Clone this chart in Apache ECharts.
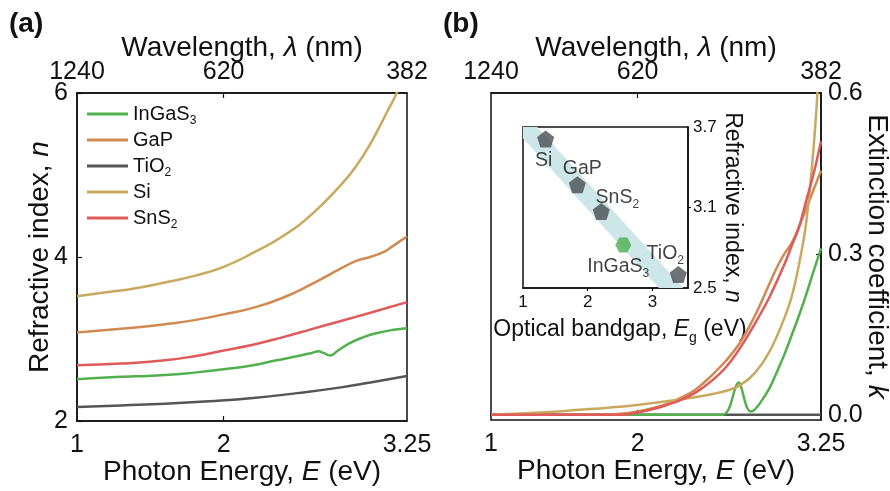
<!DOCTYPE html>
<html><head><meta charset="utf-8">
<script src="https://cdn.jsdelivr.net/npm/echarts@6/dist/echarts.min.js"></script>
<style>html,body{margin:0;padding:0;background:#fff}#c{width:890px;height:491px}</style>
</head><body><div id="c"></div>
<script>
// ---------- tick labels ----------
const energyTicks = [1, 2, 3.25];
const energyTickLabels = ['1', '2', '3.25'];
const wavelengthTickLabels = ['1240', '620', '382'];
const kTicks = [0, 0.3, 0.6];
const insetXTicks = [1, 2, 3];
const insetYTicks = [2.5, 3.1, 3.7];

// ---------- panel (a): refractive index n vs photon energy E ----------
const seriesNames = ['InGaS3', 'GaP', 'TiO2', 'Si', 'SnS2'];

const inGaS3_E_a = [1.0, 1.2, 1.4, 1.6, 1.8, 2.0, 2.2, 2.36, 2.5, 2.6, 2.645, 2.68, 2.725, 2.78, 2.86, 2.95, 3.04, 3.15, 3.25];
const inGaS3_n   = [2.51, 2.53, 2.545, 2.56, 2.59, 2.63, 2.68, 2.74, 2.79, 2.83, 2.85, 2.83, 2.80, 2.86, 2.95, 3.02, 3.07, 3.11, 3.13];

const gaP_E_a = [1.0, 1.2, 1.4, 1.6, 1.8, 2.0, 2.2, 2.4, 2.6, 2.8, 2.9, 3.0, 3.1, 3.15, 3.25];
const gaP_n   = [3.08, 3.11, 3.14, 3.18, 3.23, 3.30, 3.38, 3.50, 3.67, 3.86, 3.95, 4.0, 4.07, 4.13, 4.25];

const tiO2_E_a = [1.0, 1.3, 1.6, 1.9, 2.2, 2.5, 2.8, 3.0, 3.25];
const tiO2_n   = [2.17, 2.19, 2.21, 2.24, 2.28, 2.34, 2.41, 2.47, 2.55];

const si_E_a = [1.0, 1.2, 1.4, 1.6, 1.8, 2.0, 2.2, 2.4, 2.6, 2.8, 2.9, 3.0, 3.1, 3.2, 3.25];
const si_n   = [3.52, 3.57, 3.62, 3.69, 3.77, 3.88, 4.05, 4.25, 4.52, 4.88, 5.10, 5.38, 5.72, 6.08, 6.35];

const snS2_E_a = [1.0, 1.3, 1.6, 1.8, 2.0, 2.2, 2.4, 2.6, 2.8, 3.0, 3.25];
const snS2_n   = [2.68, 2.70, 2.74, 2.79, 2.86, 2.93, 3.02, 3.12, 3.22, 3.32, 3.45];

// ---------- panel (b): extinction coefficient k vs photon energy E ----------
const inGaS3_E_b = [1.0, 2.58, 2.62, 2.65, 2.67, 2.69, 2.71, 2.73, 2.75, 2.77, 2.80, 2.85, 2.90, 2.95, 3.0, 3.05, 3.1, 3.15, 3.2, 3.25];
const inGaS3_k   = [0, 0, 0.01, 0.035, 0.053, 0.06, 0.047, 0.026, 0.011, 0.006, 0.01, 0.028, 0.05, 0.08, 0.112, 0.148, 0.185, 0.225, 0.268, 0.31];

const gaP_E_b = [1.0, 1.8, 1.9, 2.0, 2.1, 2.2, 2.3, 2.4, 2.5, 2.6, 2.7, 2.8, 2.9, 2.95, 3.0, 3.05, 3.1, 3.15, 3.2, 3.25];
const gaP_k   = [0, 0, 0.002, 0.006, 0.012, 0.02, 0.032, 0.048, 0.072, 0.1, 0.135, 0.185, 0.245, 0.275, 0.3, 0.32, 0.35, 0.385, 0.42, 0.455];

const tiO2_E_b = [1.0, 3.25];
const tiO2_k   = [0, 0];

const si_E_b = [1.0, 1.2, 1.4, 1.6, 1.8, 2.0, 2.2, 2.4, 2.6, 2.7, 2.8, 2.9, 3.0, 3.05, 3.1, 3.15, 3.2, 3.23];
const si_k   = [0, 0.002, 0.005, 0.009, 0.013, 0.018, 0.025, 0.033, 0.044, 0.055, 0.078, 0.118, 0.18, 0.22, 0.28, 0.36, 0.5, 0.62];

const snS2_E_b = [1.0, 1.9, 2.0, 2.1, 2.2, 2.3, 2.4, 2.5, 2.6, 2.7, 2.8, 2.9, 3.0, 3.05, 3.1, 3.15, 3.2, 3.25];
const snS2_k   = [0, 0, 0.004, 0.01, 0.018, 0.028, 0.042, 0.062, 0.088, 0.125, 0.17, 0.22, 0.28, 0.315, 0.35, 0.4, 0.45, 0.51];

// ---------- inset: n vs optical bandgap ----------
const insetNames = ['Si', 'GaP', 'SnS2', 'InGaS3', 'TiO2'];
const insetEg    = [1.35, 1.84, 2.21, 2.55, 3.40];
const insetN     = [3.61, 3.27, 3.07, 2.82, 2.60];
const bandEg     = [0.9, 3.6, 3.6, 0.9];
const bandN      = [3.87, 2.435, 2.235, 3.67];

// ---------- styling ----------
const FONT = 'Liberation Sans, Arial, Helvetica, sans-serif';
const colors = { InGaS3: '#52b04e', GaP: '#cf8a52', TiO2: '#555555', Si: '#c9a95f', SnS2: '#e05a5a' };
const subNames = { InGaS3: 'InGaS{sub|3}', TiO2: 'TiO{sub|2}', SnS2: 'SnS{sub|2}' };
function rich(size) {
  return {
    i: { fontStyle: 'italic', fontSize: size, fontFamily: FONT, color: '#111' },
    sub: { fontSize: Math.round(size * 0.62), padding: [Math.round(size * 0.7), 0, 0, 0], fontFamily: FONT, color: '#111' }
  };
}
function zip(xs, ys) { return xs.map((x, i) => [x, ys[i]]); }
function lbl(map) { return v => { const i = map[0].indexOf(v); return i >= 0 ? map[1][i] : ''; }; }

const TITLE = 28, TICK = 25;
const grids = [
  { left: 77, top: 93, width: 330, height: 328 },
  { left: 491, top: 93, width: 330, height: 327 },
  { left: 523, top: 127, width: 165, height: 161 }
];

const axisLineStyle = { show: true, lineStyle: { color: '#111', width: 1.5 } };
const tickStyle = { color: '#111', width: 1.2 };
const titleStyle = { fontSize: TITLE, fontFamily: FONT, color: '#111', rich: rich(TITLE) };

function energyAxis(gi, pos) {
  const bottom = pos === 'bottom';
  return {
    gridIndex: gi, type: 'value', position: pos, min: 1, max: 3.25, axisLine: axisLineStyle, splitLine: { show: false },
    axisTick: { inside: true, length: 5, customValues: [2], lineStyle: tickStyle },
    axisLabel: { customValues: energyTicks, formatter: lbl([energyTicks, bottom ? energyTickLabels : wavelengthTickLabels]),
      fontSize: TICK, fontFamily: FONT, color: '#111', margin: bottom ? 12 : 8 },
    name: bottom ? 'Photon Energy, {i|E} (eV)' : 'Wavelength, {i|λ} (nm)',
    nameLocation: 'middle', nameGap: bottom ? 37 : 31, nameMoveOverlap: false, nameTextStyle: titleStyle
  };
}

const xAxes = [
  energyAxis(0, 'bottom'), energyAxis(0, 'top'), energyAxis(1, 'bottom'), energyAxis(1, 'top'),
  { gridIndex: 2, type: 'value', position: 'bottom', min: 1, max: 3.55, axisLine: axisLineStyle, splitLine: { show: false },
    axisTick: { show: true, length: 3, customValues: [2, 3], lineStyle: tickStyle },
    axisLabel: { customValues: insetXTicks, fontSize: 17, fontFamily: FONT, color: '#111', margin: 6 },
    name: 'Optical bandgap, {i|E}{sub|g} (eV)', nameLocation: 'middle', nameGap: 27,
    nameTextStyle: { fontSize: 23, fontFamily: FONT, color: '#111', rich: rich(23), padding: [0, 0, 0, 29] } }
];

const yAxes = [
  { gridIndex: 0, type: 'value', position: 'left', min: 2, max: 6, interval: 2, axisLine: axisLineStyle, splitLine: { show: false },
    axisTick: { inside: true, length: 5, lineStyle: tickStyle },
    axisLabel: { fontSize: TICK, fontFamily: FONT, color: '#111', margin: 9 },
    name: 'Refractive index, {i|n}', nameLocation: 'middle', nameGap: 23, nameRotate: 90, nameMoveOverlap: false, nameTextStyle: titleStyle },
  { gridIndex: 1, type: 'value', position: 'right', min: -0.01, max: 0.6, axisLine: axisLineStyle, splitLine: { show: false },
    axisTick: { inside: true, length: 5, customValues: [0.3], lineStyle: tickStyle },
    axisLabel: { customValues: kTicks, formatter: v => v.toFixed(1), fontSize: TICK, fontFamily: FONT, color: '#111', margin: 7 },
    name: 'Extinction coefficient, {i|k}', nameLocation: 'middle', nameGap: 42, nameRotate: -90, nameMoveOverlap: false, nameTextStyle: titleStyle },
  { gridIndex: 2, type: 'value', position: 'right', min: 2.5, max: 3.7, axisLine: axisLineStyle, splitLine: { show: false },
    axisTick: { show: true, length: 3, customValues: [3.1], lineStyle: tickStyle },
    axisLabel: { customValues: insetYTicks, formatter: v => v.toFixed(1), fontSize: 17, fontFamily: FONT, color: '#111', margin: 5 },
    name: 'Refractive index, {i|n}', nameLocation: 'middle', nameGap: 30, nameRotate: -90,
    nameTextStyle: { fontSize: 23, fontFamily: FONT, color: '#111', rich: rich(23) } }
];

const dataA = { InGaS3: zip(inGaS3_E_a, inGaS3_n), GaP: zip(gaP_E_a, gaP_n), TiO2: zip(tiO2_E_a, tiO2_n), Si: zip(si_E_a, si_n), SnS2: zip(snS2_E_a, snS2_n) };
const dataB = { InGaS3: zip(inGaS3_E_b, inGaS3_k), GaP: zip(gaP_E_b, gaP_k), TiO2: zip(tiO2_E_b, tiO2_k), Si: zip(si_E_b, si_k), SnS2: zip(snS2_E_b, snS2_k) };

const series = [];
seriesNames.forEach(n => {
  series.push({ name: n, type: 'line', xAxisIndex: 0, yAxisIndex: 0, data: dataA[n], symbol: 'none', smooth: 0.5,
    lineStyle: { color: colors[n], width: 2.5 }, itemStyle: { color: colors[n] }, clip: true, z: 3 });
});
['TiO2', 'InGaS3', 'GaP', 'Si', 'SnS2'].forEach(n => {
  series.push({ name: n, type: 'line', xAxisIndex: 2, yAxisIndex: 1, data: dataB[n], symbol: 'none', smooth: 0.4,
    lineStyle: { color: colors[n], width: 2.5 }, itemStyle: { color: colors[n] }, clip: true, z: 3 });
});
// inset guide band
series.push({
  type: 'custom', xAxisIndex: 4, yAxisIndex: 2, clip: true, silent: true, z: 2,
  data: zip(bandEg, bandN),
  renderItem: (params, api) => {
    if (params.dataIndex !== 0) return null;
    const pts = bandEg.map((e, i) => api.coord([e, bandN[i]]));
    return { type: 'polygon', shape: { points: pts }, style: { fill: '#cde6e8' } };
  }
});
const pentagon = 'path://M0,-10 L9.51,-3.09 L5.88,8.09 L-5.88,8.09 L-9.51,-3.09 Z';
const hexagon = 'path://M-10,0 L-5,-8.66 L5,-8.66 L10,0 L5,8.66 L-5,8.66 Z';
const labelOffsets = { Si: [-2, 22], GaP: [5, -16], SnS2: [16, -14], InGaS3: [-5, 22], TiO2: [-13, -21] };
series.push({
  type: 'scatter', xAxisIndex: 4, yAxisIndex: 2, z: 4,
  data: insetNames.map((n, i) => ({
    value: [insetEg[i], insetN[i]], name: n,
    symbol: n === 'InGaS3' ? hexagon : pentagon,
    symbolSize: n === 'InGaS3' ? [16, 15] : [17, 17],
    itemStyle: { color: n === 'InGaS3' ? '#4caf50' : '#4a4e54' },
    label: { show: true, position: 'inside', offset: labelOffsets[n], formatter: subNames[n] || n,
      fontSize: 19.5, fontFamily: FONT, color: '#111', rich: rich(19.5) }
  }))
});

const chart = echarts.init(document.getElementById('c'), null, { renderer: 'canvas' });
chart.setOption({
  backgroundColor: '#fff',
  animation: false,
  grid: grids.map(g => Object.assign({ show: true, borderColor: '#111', borderWidth: 1.5, backgroundColor: 'transparent',
    containLabel: false, outerBoundsMode: 'none' }, g)),
  xAxis: xAxes,
  yAxis: yAxes,
  legend: {
    data: seriesNames, orient: 'vertical', left: 87, top: 104, padding: 0, itemWidth: 41, itemHeight: 3, itemGap: 3, icon: 'rect',
    selectedMode: false,
    formatter: n => subNames[n] || (n + '{sub| }'),
    textStyle: { fontSize: 20, fontFamily: FONT, color: '#111', rich: rich(20) }
  },
  graphic: [
    { type: 'text', left: 9, top: 10, style: { text: '(a)', fontSize: 28, fontWeight: 'bold', fontFamily: FONT, fill: '#111' } },
    { type: 'text', left: 443, top: 10, style: { text: '(b)', fontSize: 28, fontWeight: 'bold', fontFamily: FONT, fill: '#111' } }
  ],
  series: series
});
</script></body></html>
